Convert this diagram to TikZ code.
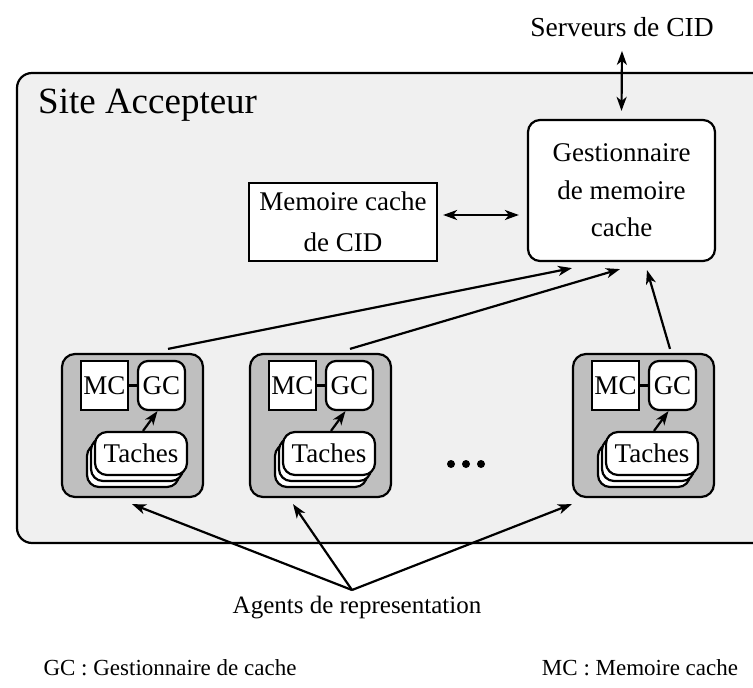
\documentclass[tikz,border=0pt]{standalone}
\usepackage{fontspec}
\setmainfont{Liberation Serif}
\usetikzlibrary{arrows.meta,calc}
\tikzset{
  txt/.style={font=\fontsize{27}{32}\selectfont, inner sep=0pt},
  ln/.style={line width=2.2pt},
  arr/.style={ln,-{Stealth[length=14pt,width=10pt,inset=4pt]}},
  darr/.style={ln,{Stealth[length=14pt,width=10pt,inset=4pt]}-{Stealth[length=14pt,width=10pt,inset=4pt]}},
  sitebox/.style={ln, rounded corners=15pt, fill=gray!12},
  agentbox/.style={draw, ln, rounded corners=13pt, fill=gray!50, minimum width=141pt, minimum height=143pt, inner sep=0pt},
  mcbox/.style={draw, ln, fill=white, minimum width=47pt, minimum height=49pt, inner sep=0pt, font=\fontsize{27}{32}\selectfont},
  gcbox/.style={mcbox, rounded corners=10pt},
  tbox/.style={draw, ln, fill=white, rounded corners=12pt, minimum width=92pt, minimum height=43pt, inner sep=0pt, font=\fontsize{27}{32}\selectfont},
  bigbox/.style={draw, ln, fill=white, inner sep=0pt, align=center},
  dot/.style={circle, fill=black, minimum size=8pt, inner sep=0pt}
}
\newcommand{\agentgroup}[2]{%
  \node[agentbox] (#1) at (#2+70.5,425.5) {};
  \node[mcbox] (#1-mc) at (#2+42.5,385.5) {MC};
  \node[gcbox] (#1-gc) at (#2+99.5,385.5) {GC};
  \draw[ln] (#1-mc.east) -- (#1-gc.west);
  \node[tbox] (#1-t3) at (#2+71,465.5) {};
  \node[tbox] (#1-t2) at (#2+75,459.5) {};
  \node[tbox] (#1-t) at (#2+79,453.5) {Taches};
  \draw[arr] ([xshift=2pt]#1-t.north) -- ([xshift=-4pt]#1-gc.south);
}
\begin{document}
\begin{tikzpicture}[x=1pt,y=-1pt]
\useasboundingbox (0,0) rectangle (753,688);
\clip (0,0) rectangle (753,688);
\draw[sitebox] (17,73) rectangle (800,543);
\node[txt, font=\fontsize{37}{40}\selectfont, anchor=west] (site) at (38,105) {Site Accepteur};
\node[txt, font=\fontsize{27.5}{32}\selectfont] (serv) at (622,27) {Serveurs de CID};
\node[bigbox, rounded corners=12pt, minimum width=187pt, minimum height=141pt, font=\fontsize{27}{37.5}\selectfont] (gest) at (621.5,190.5) {Gestionnaire\\de memoire\\cache};
\node[bigbox, minimum width=188pt, minimum height=78pt, font=\fontsize{27}{41}\selectfont] (mem) at (343,222) {Memoire cache\\de CID};
\draw[darr] ([yshift=-14pt]serv.south) -- ([yshift=8pt]gest.north);
\draw[darr] ($(mem.east)+(5,-7)$) -- ($(mem.east -| gest.west)+(-8,-7)$);
\agentgroup{a1}{62}
\agentgroup{a2}{250}
\agentgroup{a3}{573}
\node[dot] (d1) at (451,464) {};
\node[dot] (d2) at (466,464) {};
\node[dot] (d3) at (481,464) {};
\draw[arr] ($(a1.north)+(35.5,-4)$) -- ($(gest.south)+(-49.5,6)$);
\draw[arr] ($(a2.north)+(29.5,-4)$) -- ($(gest.south)+(-1.5,7)$);
\draw[arr] ($(a3.north)+(26.5,-4)$) -- ($(gest.south)+(25.5,8)$);
\node[txt, font=\fontsize{25}{30}\selectfont] (agents) at (357,608) {Agents de representation};
\coordinate (apex) at (352,590);
\draw[arr] (apex) -- ($(a1.south)+(-0.5,6)$);
\draw[arr] (apex) -- ($(a2.south)+(-27.5,6)$);
\draw[arr] (apex) -- ($(a3.south west)+(0,6)$);
\node[txt, font=\fontsize{23}{28}\selectfont] (leggc) at (170,668) {GC : Gestionnaire de cache};
\node[txt, font=\fontsize{23}{28}\selectfont] (legmc) at (640,668) {MC : Memoire cache};
\end{tikzpicture}
\end{document}
